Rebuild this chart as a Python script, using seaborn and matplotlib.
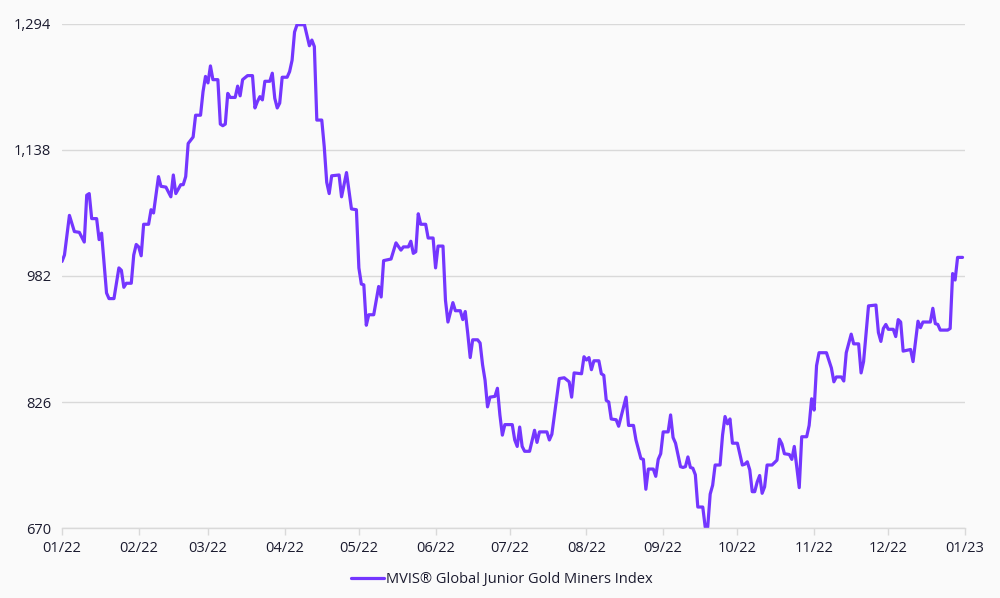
import numpy as np
import pandas as pd
import matplotlib
matplotlib.use("Agg")
import matplotlib.pyplot as plt
import matplotlib.dates as mdates
import seaborn as sns

# ---- data ----
day_offsets = [0, 1, 3, 5, 7, 9, 10, 11, 12, 14, 15, 16, 18, 19, 21, 23, 24, 25, 26, 28,
               29, 30, 31, 32, 33, 35, 36, 37, 39, 40, 42, 44, 45, 46, 48, 49, 50, 51, 52, 53,
               54, 56, 57, 58, 59, 60, 61, 63, 64, 65, 66, 67, 68, 70, 71, 72, 73, 75, 77, 78,
               79, 80, 81, 82, 84, 85, 86, 87, 88, 89, 91, 92, 93, 94, 95, 98, 100, 101, 102, 103,
               105, 106, 107, 108, 109, 112, 113, 115, 117, 119, 120, 121, 122, 123, 124, 126, 128, 129, 130, 133,
               135, 137, 138, 140, 141, 142, 143, 144, 145, 147, 148, 150, 151, 152, 154, 155, 156, 158, 159, 161,
               162, 163, 164, 165, 166, 168, 169, 170, 171, 172, 173, 175, 176, 177, 178, 179, 182, 183, 184, 185,
               186, 187, 189, 191, 192, 193, 196, 197, 198, 201, 203, 205, 206, 207, 210, 211, 212, 213, 214, 215,
               217, 218, 219, 220, 221, 222, 224, 225, 227, 228, 229, 231, 232, 234, 235, 236, 237, 239, 240, 241,
               242, 243, 245, 246, 247, 248, 250, 251, 252, 253, 254, 255, 256, 257, 259, 260, 261, 262, 263, 264,
               266, 267, 268, 269, 270, 271, 273, 275, 276, 277, 278, 279, 280, 281, 282, 283, 284, 285, 287, 289,
               290, 291, 292, 294, 295, 296, 297, 298, 299, 301, 302, 303, 304, 305, 306, 309, 311, 312, 313, 315,
               316, 317, 319, 320, 322, 323, 324, 326, 329, 330, 331, 332, 333, 334, 336, 337, 338, 339, 340, 343,
               344, 346, 347, 348, 351, 352, 353, 354, 355, 358, 359, 360, 361, 362, 364]
index_values = [1000, 1008, 1057, 1037, 1036, 1024, 1082, 1084, 1053, 1053, 1027, 1035, 961, 954, 954, 992, 989, 968, 973, 973,
                1008, 1021, 1018, 1007, 1046, 1046, 1064, 1060, 1105, 1093, 1092, 1080, 1107, 1084, 1095, 1095, 1105, 1146, 1150, 1154,
                1181, 1181, 1210, 1229, 1221, 1242, 1225, 1225, 1170, 1168, 1170, 1208, 1203, 1203, 1217, 1205, 1225, 1230, 1230, 1190,
                1198, 1204, 1200, 1223, 1223, 1233, 1202, 1190, 1196, 1228, 1228, 1235, 1249, 1284, 1293, 1293, 1267, 1274, 1266, 1175,
                1175, 1142, 1098, 1084, 1106, 1107, 1080, 1110, 1065, 1064, 992, 972, 971, 921, 934, 934, 969, 956, 1001, 1003,
                1023, 1014, 1018, 1018, 1025, 1010, 1012, 1059, 1046, 1046, 1029, 1029, 992, 1019, 1019, 952, 925, 949, 939, 939,
                928, 938, 911, 881, 903, 903, 899, 872, 853, 820, 832, 833, 843, 810, 785, 798, 798, 779, 771, 795,
                771, 765, 765, 791, 776, 789, 789, 779, 786, 855, 856, 851, 832, 862, 861, 882, 878, 881, 866, 877,
                877, 861, 859, 828, 826, 805, 804, 796, 820, 832, 797, 797, 779, 756, 755, 718, 743, 743, 734, 755,
                762, 789, 789, 810, 782, 775, 746, 745, 746, 758, 745, 744, 736, 696, 696, 671, 671, 712, 723, 748,
                748, 785, 808, 799, 805, 775, 775, 748, 749, 752, 742, 715, 715, 727, 735, 713, 721, 748, 748, 754,
                780, 774, 762, 761, 755, 771, 746, 720, 783, 783, 797, 830, 816, 871, 887, 887, 868, 851, 857, 857,
                852, 887, 910, 898, 898, 862, 876, 945, 946, 912, 901, 917, 922, 916, 916, 907, 928, 925, 889, 891,
                876, 926, 918, 925, 925, 942, 923, 922, 915, 915, 917, 985, 977, 1005, 1005]
y_ticks = [670, 826, 982, 1138, 1294]
x_tick_labels = ["01/22", "02/22", "03/22", "04/22", "05/22", "06/22", "07/22",
                 "08/22", "09/22", "10/22", "11/22", "12/22", "01/23"]
series_name = "MVIS\u00ae Global Junior Gold Miners Index"

dates = pd.Timestamp("2022-01-01") + pd.to_timedelta(day_offsets, unit="D")
df = pd.DataFrame({"date": dates, "value": index_values, "series": series_name})

# ---- style ----
sns.set_style("white")
plt.rcParams["font.family"] = ["Open Sans", "DejaVu Sans"]
bg = "#FAFAFA"
text_c = "#1B1B2F"
grid_c = "#D9D9D9"
line_c = "#7436FF"

fig = plt.figure(figsize=(10, 5.98), dpi=100, facecolor=bg)
ax = fig.add_axes([0.062, 0.117, 0.903, 0.843])
ax.set_facecolor(bg)

sns.lineplot(data=df, x="date", y="value", hue="series", palette=[line_c],
             linewidth=2.3, ax=ax, legend=True)

ax.set_ylim(670, 1294)
ax.set_yticks(y_ticks)
ax.set_yticklabels([f"{v:,}" for v in y_ticks])
ax.set_xlim(pd.Timestamp("2022-01-01"), pd.Timestamp("2023-01-01"))
tick_dates = pd.date_range("2022-01-01", "2023-01-01", freq="MS")
ax.set_xticks(tick_dates)
ax.set_xticklabels(x_tick_labels)

ax.grid(axis="y", color=grid_c, linewidth=1)
ax.set_axisbelow(True)
for s in ["top", "right", "left"]:
    ax.spines[s].set_visible(False)
ax.spines["bottom"].set_color(grid_c)
ax.spines["bottom"].set_linewidth(1)

ax.tick_params(axis="y", length=0, pad=8, labelsize=10.5, labelcolor=text_c)
ax.tick_params(axis="x", length=5, width=1, color=grid_c, pad=4,
               labelsize=10.5, labelcolor=text_c, bottom=True)
ax.set_xlabel("")
ax.set_ylabel("")

leg = ax.legend(loc="upper center", bbox_to_anchor=(0.487, -0.075), frameon=False,
                fontsize=10.5, handlelength=2.3, handletextpad=0.1, borderaxespad=0)
for t in leg.get_texts():
    t.set_color(text_c)

fig.savefig("out.png", dpi=100, facecolor=bg)
